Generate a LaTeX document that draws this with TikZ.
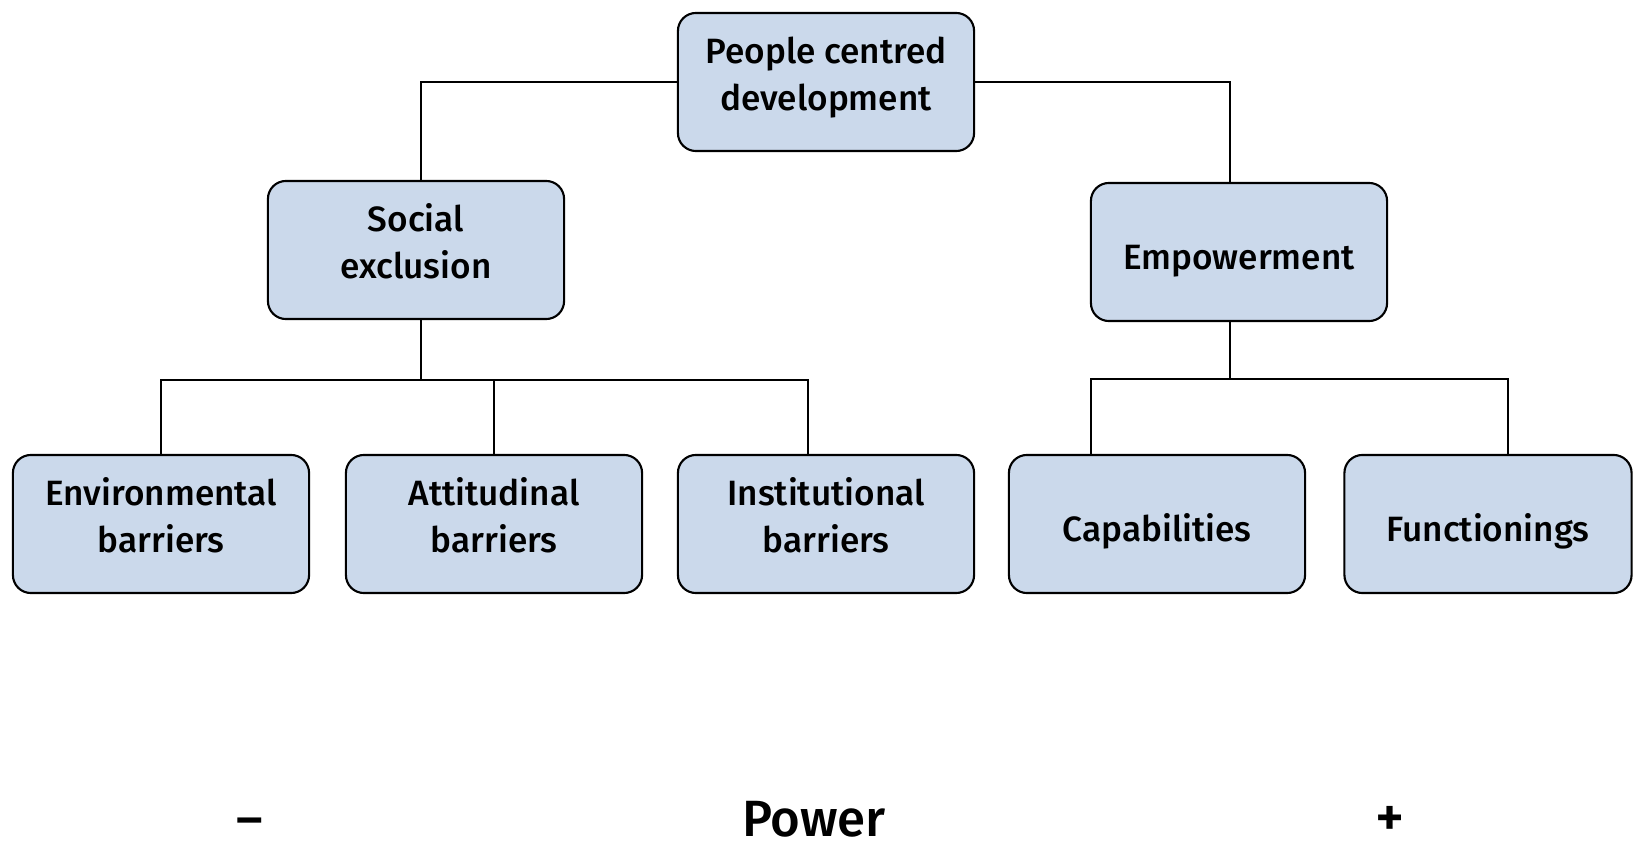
\documentclass[tikz,border=0pt]{standalone}
\usepackage{fontspec}
\setmainfont{Fira Sans}[UprightFont=* Medium]
\definecolor{boxblue}{RGB}{203,217,235}
\begin{document}
\begin{tikzpicture}[x=0.01cm, y=-0.01cm,
  box/.style={draw, line width=0.6pt, fill=boxblue, rounded corners=0.18cm, minimum width=2.96cm, minimum height=1.38cm, inner sep=0pt, align=center, font=\fontsize{10}{13.4}\selectfont},
  boxone/.style={box, text height=9.9pt, text depth=0pt},
  boxtwo/.style={box, text height=18.2pt, text depth=2pt},
  scale label/.style={anchor=base, inner sep=0pt, font=\fontsize{14.5}{17}\selectfont}]

\useasboundingbox (0,0) rectangle (1633,843);

\node [boxtwo] (pcd) at (826,82) {People centred\\development};
\node [boxtwo] (social) at (416,250) {Social\\exclusion};
\node [boxone] (empow) at (1239,252) {Empowerment};

\node [boxtwo] (env) at (161,524) {Environmental\\barriers};
\node [boxtwo] (att) at (494,524) {Attitudinal\\barriers};
\node [boxtwo] (inst) at (826,524) {Institutional\\barriers};
\node [boxone] (cap) at (1157,524) {Capabilities};
\node [boxone, minimum width=2.87cm] (func) at (1488,524) {Functionings};

\coordinate (sj) at (421,380);
\coordinate (ej) at (1230,379);
\coordinate (instdrop) at (808,380);
\coordinate (capdrop) at (1091,379);
\coordinate (funcdrop) at (1508,379);

\begin{scope}[line width=0.5pt]
\draw (pcd.west) -| (sj |- social.north);
\draw (pcd.east) -| (ej |- empow.north);
\draw (sj |- social.south) -- (sj);
\draw (env.north) |- (sj) -- (instdrop) -- (instdrop |- inst.north);
\draw (att.north) -- (att.north |- sj);
\draw (ej |- empow.south) -- (ej);
\draw (capdrop |- cap.north) -- (capdrop) -- (funcdrop) -- (funcdrop |- func.north);
\end{scope}

\node [scale label] (minus) at (250,836) {–};
\node [scale label] (power) at (814,836) {Power};
\node [scale label, font=\fontsize{16}{18}\selectfont] (plus) at (1390,836) {+};

\end{tikzpicture}
\end{document}
